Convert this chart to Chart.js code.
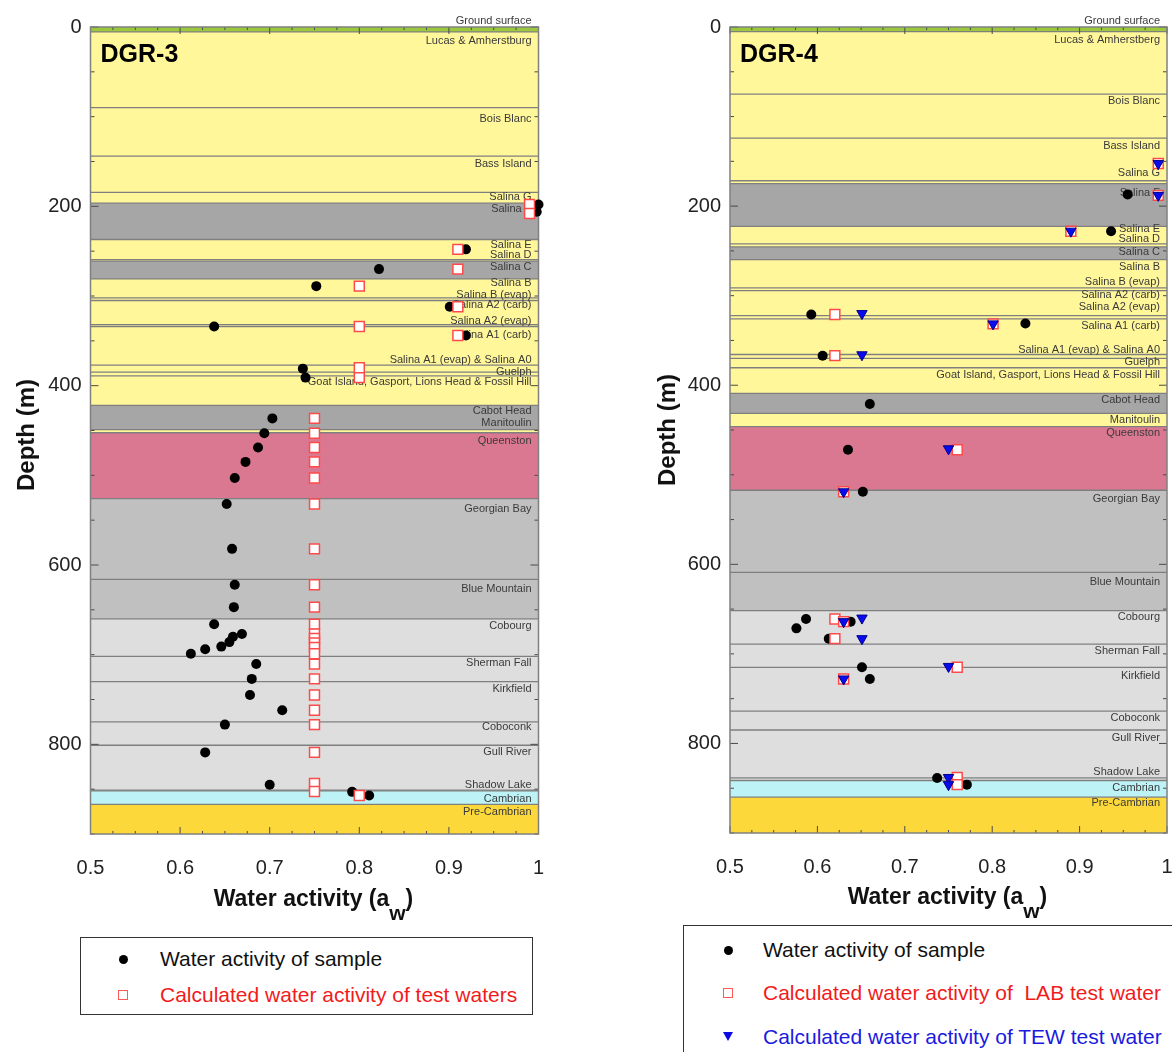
<!DOCTYPE html>
<html><head><meta charset="utf-8">
<script src="https://cdn.jsdelivr.net/npm/chart.js@4.4.1/dist/chart.umd.min.js"></script>
<style>
html,body{margin:0;padding:0;background:#fff;}
body{width:1172px;height:1052px;position:relative;overflow:hidden;font-family:"Liberation Sans",Arial,sans-serif;}
canvas{position:absolute;top:0;}
#c3{left:0;} #c4{left:620px;}
.ytitle{position:absolute;font-weight:bold;font-size:24px;line-height:24px;white-space:nowrap;transform:translate(-50%,-50%) rotate(-90deg);color:#111;}
.xtitle{position:absolute;font-weight:bold;font-size:23px;line-height:23px;white-space:nowrap;transform:translateX(-50%);color:#111;}
.xtitle .sub{position:relative;top:14px;font-size:21px;}
.legend{position:absolute;border:1.5px solid #333;box-sizing:border-box;}
.item{position:absolute;font-size:21px;line-height:24px;white-space:nowrap;}
.dot{position:absolute;width:9px;height:9px;border-radius:50%;background:#000;}
.sq{position:absolute;width:8px;height:8px;border:1px solid #ff5a5a;background:#fff;}
.tri{position:absolute;width:0;height:0;border-left:5px solid transparent;border-right:5px solid transparent;border-top:9px solid #0a0ae6;}
</style></head>
<body>
<canvas id="c3" width="560" height="890"></canvas>
<canvas id="c4" width="552" height="890"></canvas>

<div class="ytitle" style="left:26px;top:435px;">Depth (m)</div>
<div class="ytitle" style="left:667px;top:430px;">Depth (m)</div>
<div class="xtitle" style="left:313.5px;top:887px;">Water activity (a<span class="sub">w</span>)</div>
<div class="xtitle" style="left:947.5px;top:885px;">Water activity (a<span class="sub">w</span>)</div>

<div class="legend" style="left:80px;top:937px;width:453px;height:78px;"></div>
<div class="dot" style="left:118.5px;top:954.5px;"></div>
<div class="item" style="left:160px;top:947px;color:#111;">Water activity of sample</div>
<div class="sq" style="left:118px;top:990px;"></div>
<div class="item" style="left:160px;top:983px;color:#f01c1c;">Calculated water activity of test waters</div>

<div class="legend" style="left:683px;top:925px;width:600px;height:200px;"></div>
<div class="dot" style="left:723.5px;top:945.5px;"></div>
<div class="item" style="left:763px;top:938px;color:#111;">Water activity of sample</div>
<div class="sq" style="left:723px;top:988px;"></div>
<div class="item" style="left:763px;top:981px;color:#f01c1c;">Calculated water activity of &nbsp;LAB test water</div>
<div class="tri" style="left:723px;top:1032px;"></div>
<div class="item" style="left:763px;top:1025px;color:#1a1ae0;">Calculated water activity of TEW test water</div>

<script>
// ---------------- DATA ----------------
const xTickValues = [0.5, 0.6, 0.7, 0.8, 0.9, 1.0];
const xTickLabels = ['0.5', '0.6', '0.7', '0.8', '0.9', '1'];
const yTickValues = [0, 200, 400, 600, 800];
const yTickLabels = ['0', '200', '400', '600', '800'];

const formationNames3 = ['Ground surface','Lucas & Amherstburg','Bois Blanc','Bass Island','Salina G','Salina F','Salina E','Salina D','Salina C','Salina B','Salina B (evap)','Salina A2 (carb)','Salina A2 (evap)','Salina A1 (carb)','Salina A1 (evap) & Salina A0','Guelph','Goat Island, Gasport, Lions Head & Fossil Hill','Cabot Head','Manitoulin','Queenston','Georgian Bay','Blue Mountain','Cobourg','Sherman Fall','Kirkfield','Coboconk','Gull River','Shadow Lake','Cambrian','Pre-Cambrian'];
const formationNames4 = ['Ground surface','Lucas & Amherstberg','Bois Blanc','Bass Island','Salina G','Salina F','Salina E','Salina D','Salina C','Salina B','Salina B (evap)','Salina A2 (carb)','Salina A2 (evap)','Salina A1 (carb)','Salina A1 (evap) & Salina A0','Guelph','Goat Island, Gasport, Lions Head & Fossil Hill','Cabot Head','Manitoulin','Queenston','Georgian Bay','Blue Mountain','Cobourg','Sherman Fall','Kirkfield','Coboconk','Gull River','Shadow Lake','Cambrian','Pre-Cambrian'];
const lithology = ['ground','dolostone','dolostone','dolostone','dolostone','evaporite','dolostone','dolostone','evaporite','dolostone','dolostone','dolostone','dolostone','dolostone','dolostone','dolostone','dolostone','evaporite','dolostone','redshale','shale','shale','limestone','limestone','limestone','limestone','limestone','limestone','sandstone','basement'];

const formationTops3 = [0, 5.5, 90, 144, 184.5, 196.5, 237, 259.5, 261, 281, 302, 305, 332, 334, 377, 385, 389, 422, 449, 452.5, 526, 616, 660, 702, 730, 775, 801, 851, 852, 867];
const labelDepths3 = [-6.7, 15.3, 102.4, 152.6, 189, 203, 242.8, 254.7, 268, 286, 298.4, 310.4, 327.4, 343.8, 370.8, 385, 396, 428.4, 441.3, 461.8, 537.9, 627, 668, 709.4, 738.3, 780.3, 808.5, 845.2, 861, 875.3];

const formationTops4 = [0, 5.2, 75, 124, 171.7, 175, 222.6, 242.2, 245.6, 259.8, 291.3, 294.3, 322.2, 325.9, 365.7, 370.1, 380.5, 409, 431.4, 446.3, 517.3, 609, 651.8, 689, 715, 764, 785, 838.4, 841.4, 860];
const labelDepths4 = [-6.7, 14.5, 82.8, 132.3, 163.1, 185.4, 225.5, 236.7, 251.6, 267.9, 284.6, 299.1, 312.5, 334.1, 360.1, 373.8, 388, 416.6, 438.9, 453.7, 526.5, 619.5, 659.2, 696.4, 724.3, 771.1, 793.8, 832, 849.5, 866.2];

// DGR-3 water activity of samples
const sampleAw3 = [1.000, 0.998, 0.919, 0.822, 0.752, 0.901, 0.638, 0.919, 0.737, 0.740, 0.703, 0.694, 0.687, 0.673, 0.661, 0.652, 0.658, 0.661, 0.660, 0.638, 0.669, 0.659, 0.655, 0.646, 0.628, 0.612, 0.685, 0.680, 0.678, 0.714, 0.650, 0.628, 0.700, 0.792, 0.811];
const sampleDepth3 = [198, 206, 248, 270, 289, 312, 334, 344, 381, 391, 436.5, 453, 469, 485, 503, 532, 582, 622, 647, 666, 677, 680, 686, 691, 694, 699, 710.5, 727, 745, 762, 778, 809, 845, 853, 857];
// DGR-3 calculated water activity of test waters
const testAw3 = [0.990, 0.990, 0.910, 0.910, 0.800, 0.910, 0.800, 0.910, 0.800, 0.800, 0.750, 0.750, 0.750, 0.750, 0.750, 0.750, 0.750, 0.750, 0.750, 0.750, 0.750, 0.750, 0.750, 0.750, 0.750, 0.750, 0.750, 0.750, 0.750, 0.750, 0.750, 0.750, 0.750, 0.800];
const testDepth3 = [198, 208, 248, 270, 289, 312, 334, 344, 380, 391, 436.5, 453, 469, 485, 503, 532, 582, 622, 647, 666, 677, 682, 687, 692, 699, 710.5, 727, 745, 762, 778, 809, 843.5, 852.6, 857];

// DGR-4 water activity of samples
const sampleAw4 = [0.955, 0.936, 0.593, 0.838, 0.606, 0.660, 0.635, 0.652, 0.587, 0.576, 0.638, 0.613, 0.651, 0.660, 0.737, 0.771];
const sampleDepth4 = [187, 228, 321, 331, 367, 421, 472, 519, 661, 671.5, 664, 683, 715, 728, 838.5, 846];
// DGR-4 LAB test water
const labAw4 = [0.990, 0.990, 0.890, 0.620, 0.801, 0.620, 0.760, 0.630, 0.620, 0.630, 0.620, 0.760, 0.630, 0.760, 0.760];
const labDepth4 = [152.5, 188, 228, 321, 331.5, 367, 472, 519, 661, 664, 683, 715, 728, 838, 846];
// DGR-4 TEW test water
const tewAw4 = [0.990, 0.990, 0.890, 0.651, 0.801, 0.651, 0.750, 0.630, 0.651, 0.630, 0.651, 0.750, 0.630, 0.750, 0.750];
const tewDepth4 = [152.5, 188, 228, 320, 331.5, 366, 471, 519, 660, 664, 683, 714, 728, 838, 846];

// ---------------- STYLE ----------------
const LITH_COLORS = {ground:'#9cc93c', dolostone:'#fff79a', evaporite:'#a6a6a6', redshale:'#db7891', shale:'#c0c0c0', limestone:'#dddedd', sandstone:'#bdf3f6', basement:'#fcd83a'};
const FONT = '"Liberation Sans", Arial, sans-serif';

function pts(xs, ys){ return xs.map((v,i)=>({x:v, y:ys[i]})); }

function stratPlugin(o){
  return {
    id:'strat',
    beforeDatasetsDraw(chart){
      const ctx = chart.ctx, a = chart.chartArea, x = chart.scales.x, y = chart.scales.y;
      ctx.save();
      const n = o.tops.length;
      for (let i=0;i<n;i++){
        const t = y.getPixelForValue(o.tops[i]);
        const b = y.getPixelForValue(i<n-1 ? o.tops[i+1] : y.max);
        ctx.fillStyle = LITH_COLORS[o.lith[i]];
        ctx.fillRect(a.left, t, a.right-a.left, b-t);
      }
      ctx.strokeStyle = '#7f7f7f'; ctx.lineWidth = 1.3;
      for (let i=1;i<n;i++){
        const p = y.getPixelForValue(o.tops[i]);
        ctx.beginPath(); ctx.moveTo(a.left,p); ctx.lineTo(a.right,p); ctx.stroke();
      }
      // tick marks (inward, all four sides)
      ctx.strokeStyle = '#4a4a4a'; ctx.lineWidth = 1;
      for (let k=0;k<=20;k++){
        const px = x.getPixelForValue(0.5 + k*0.025);
        const len = (k%4===0) ? 7 : 3;
        ctx.beginPath();
        ctx.moveTo(px, a.top); ctx.lineTo(px, a.top+len);
        ctx.moveTo(px, a.bottom); ctx.lineTo(px, a.bottom-len);
        ctx.stroke();
      }
      for (let k=0;k<=18;k++){
        const py = y.getPixelForValue(k*50);
        const len = (k%4===0) ? 8 : 4;
        ctx.beginPath();
        ctx.moveTo(a.left, py); ctx.lineTo(a.left+len, py);
        ctx.moveTo(a.right, py); ctx.lineTo(a.right-len, py);
        ctx.stroke();
      }
      // formation labels
      ctx.font = '11px ' + FONT; ctx.fillStyle = '#3a3a3a';
      ctx.textAlign = 'right'; ctx.textBaseline = 'middle';
      for (let i=0;i<n;i++){
        ctx.fillText(o.names[i], a.right-7, y.getPixelForValue(o.labelDepths[i]));
      }
      // border
      ctx.strokeStyle = '#808080'; ctx.lineWidth = 1.5;
      ctx.strokeRect(a.left, a.top, a.right-a.left, a.bottom-a.top);
      // panel title
      ctx.font = 'bold 25px ' + FONT; ctx.fillStyle = '#000';
      ctx.textAlign = 'left'; ctx.textBaseline = 'alphabetic';
      ctx.fillText(o.title, a.left+10, a.top+35);
      ctx.restore();
    }
  };
}

function makeChart(id, o){
  return new Chart(document.getElementById(id), {
    type:'scatter',
    data:{datasets:o.datasets},
    options:{
      responsive:false, animation:false, devicePixelRatio:1,
      layout:{autoPadding:false, padding:{top:27, right:o.padRight, left:0, bottom:0}},
      plugins:{legend:{display:false}, tooltip:{enabled:false}},
      scales:{
        x:{type:'linear', min:0.5, max:1.0,
          afterBuildTicks:s=>{ s.ticks = xTickValues.map(v=>({value:v})); },
          afterFit:s=>{ s.height = o.xAxisH; s.paddingLeft = 0; s.paddingRight = 0; },
          ticks:{callback:(v,i)=>xTickLabels[i], padding:22, color:'#222', font:{family:FONT, size:20}, maxRotation:0, autoSkip:false},
          grid:{display:false, drawTicks:false}, border:{display:false}},
        y:{type:'linear', min:0, max:900, reverse:true,
          afterBuildTicks:s=>{ s.ticks = yTickValues.map(v=>({value:v})); },
          afterFit:s=>{ s.width = o.yAxisW; s.paddingTop = 0; s.paddingBottom = 0; },
          ticks:{callback:(v,i)=>yTickLabels[i], padding:9, color:'#222', font:{family:FONT, size:20}, autoSkip:false},
          grid:{display:false, drawTicks:false}, border:{display:false}}
      }
    },
    plugins:[stratPlugin(o)]
  });
}

const dotStyle = {pointStyle:'circle', pointRadius:5, backgroundColor:'#000', borderColor:'#000', borderWidth:0, showLine:false, clip:false};
const sqStyle = {pointStyle:'rect', pointRadius:7, backgroundColor:'#fff', borderColor:'#ff4a4a', borderWidth:1.5, showLine:false, clip:false};
const triStyle = {pointStyle:'triangle', rotation:180, pointRadius:6, backgroundColor:'#0a0af0', borderColor:'#00008a', borderWidth:1, showLine:false, clip:false};

makeChart('c3', {
  title:'DGR-3', names:formationNames3, tops:formationTops3, labelDepths:labelDepths3, lith:lithology,
  padRight:21.5, yAxisW:90.5, xAxisH:56,
  datasets:[
    Object.assign({label:'Calculated water activity of test waters', data:pts(testAw3, testDepth3), order:1}, sqStyle),
    Object.assign({label:'Water activity of sample', data:pts(sampleAw3, sampleDepth3), order:2}, dotStyle)
  ]
});
makeChart('c4', {
  title:'DGR-4', names:formationNames4, tops:formationTops4, labelDepths:labelDepths4, lith:lithology,
  padRight:5, yAxisW:110, xAxisH:57,
  datasets:[
    Object.assign({label:'Calculated water activity of TEW test water', data:pts(tewAw4, tewDepth4), order:1}, triStyle),
    Object.assign({label:'Calculated water activity of LAB test water', data:pts(labAw4, labDepth4), order:2}, sqStyle),
    Object.assign({label:'Water activity of sample', data:pts(sampleAw4, sampleDepth4), order:3}, dotStyle)
  ]
});
</script>
</body></html>
